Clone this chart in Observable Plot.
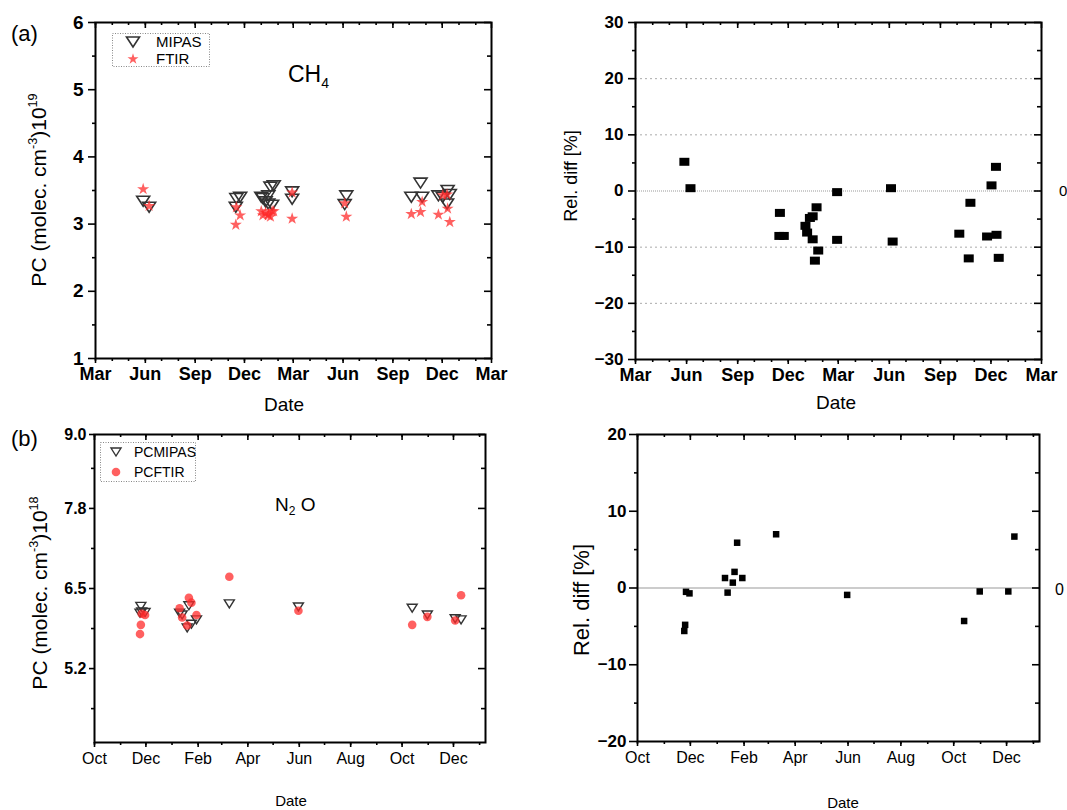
<!DOCTYPE html>
<html>
<head>
<meta charset="utf-8">
<script src="https://cdn.jsdelivr.net/npm/d3@7"></script>
<script src="https://cdn.jsdelivr.net/npm/@observablehq/plot@0.6"></script>
<style>
  body { margin: 0; background: #fff; }
  #fig { position: relative; width: 1067px; height: 810px; overflow: hidden; background: #fff; }
  .p { position: absolute; }
</style>
</head>
<body>
<div id="fig"></div>
<script>
// ---------- CH4 partial columns (x1e19 molec. cm^-3) and relative differences ----------
const ch4Dates = ["2010-05-28","2010-06-08","2010-11-15","2010-11-16","2010-11-23",
  "2011-01-01","2011-01-04","2011-01-09","2011-01-14","2011-01-14","2011-01-18","2011-01-21","2011-01-24",
  "2011-02-27","2011-02-27","2011-06-04","2011-06-07","2011-10-05","2011-10-22","2011-10-25",
  "2011-11-24","2011-12-02","2011-12-10","2011-12-11","2011-12-15"];
const ch4Mipas = [3.34,3.25,3.25,3.38,3.40, 3.40,3.38,3.33,3.30,3.42,3.55,3.28,3.57,
  3.48,3.37,3.29,3.42,3.40,3.61,3.40, 3.42,3.40,3.30,3.50,3.44];
const ch4Ftir  = [3.52,3.27,2.99,3.25,3.13, 3.19,3.13,3.17,3.15,3.13,3.11,3.19,3.19,
  3.47,3.08,3.31,3.11,3.15,3.18,3.33, 3.14,3.43,3.44,3.23,3.03];
const ch4Rel   = [5.2,0.5,-8.0,-3.9,-8.0, -6.2,-7.4,-4.8,-4.5,-8.6,-12.4,-2.9,-10.6,
  -0.2,-8.7,0.5,-9.0,-7.6,-12.0,-2.1, -8.1,1.0,4.3,-7.8,-11.9];

// ---------- N2O partial columns (x1e18 molec. cm^-3) and relative differences ----------
const n2oDates = ["2010-11-24","2010-11-25","2010-11-26","2010-11-30",
  "2011-01-10","2011-01-13","2011-01-19","2011-01-21","2011-01-24","2011-01-30",
  "2011-03-10","2011-05-31","2011-10-13","2011-10-31","2011-12-03","2011-12-10"];
const n2oMipas = [6.10,6.21,6.12,6.11, 6.10,6.07,5.86,6.22,5.92,5.99, 6.25,6.20,6.18,6.07,6.01,5.99];
const n2oFtir  = [5.76,5.91,6.09,6.07, 6.18,6.03,5.90,6.35,6.27,6.07, 6.69,6.14,5.91,6.04,5.98,6.39];
const n2oRel   = [-5.6,-4.8,-0.5,-0.7, 1.3,-0.6,0.7,2.1,5.9,1.3, 7.0,-0.9,-4.3,-0.45,-0.45,6.7];

// ---------- axes ----------
const ch4Domain = ["2010-03-01","2012-03-01"];
const ch4TickDates = ["2010-03-01","2010-06-01","2010-09-01","2010-12-01","2011-03-01",
  "2011-06-01","2011-09-01","2011-12-01","2012-03-01"];
const n2oDomain = ["2010-10-01","2012-01-08"];
const n2oTickDates = ["2010-10-01","2010-12-01","2011-02-01","2011-04-01","2011-06-01",
  "2011-08-01","2011-10-01","2011-12-01"];
const ch4PcTicks = [1,2,3,4,5,6];
const ch4PcMinor = [1.5,2.5,3.5,4.5,5.5];
const ch4RelTicks = [-30,-20,-10,0,10,20,30];
const ch4RelMinor = [-25,-15,-5,5,15,25];
const ch4RelGrid = [-20,-10,10,20];
const n2oPcTicks = [5.2,6.5,7.8,9.0];
const n2oPcMinor = [4.55,5.85,7.15,8.45];
const n2oRelTicks = [-20,-10,0,10,20];
const n2oRelMinor = [-15,-5,5,15];

const parse = d3.utcParse("%Y-%m-%d");
const FONT = "'Liberation Sans', Arial, Helvetica, sans-serif";
const monthFmt = d3.utcFormat("%b");

const ch4 = ch4Dates.map((d, i) => ({date: parse(d), mipas: ch4Mipas[i], ftir: ch4Ftir[i], rel: ch4Rel[i]}));
const n2o = n2oDates.map((d, i) => ({date: parse(d), mipas: n2oMipas[i], ftir: n2oFtir[i], rel: n2oRel[i]}));

// custom marker shapes
const triDown = (w, h) => ({draw(c) { c.moveTo(-w / 2, -h / 2); c.lineTo(w / 2, -h / 2); c.lineTo(0, h / 2); c.closePath(); }});
const box = (w, h) => ({draw(c) { c.rect(-w / 2, -h / 2, w, h); }});

const RED = "#ff2b2b";

function panel(o) {
  const iw = o.W - o.ml - o.mr, ih = o.H - o.mt - o.mb;
  const xDomain = o.xDomain.map(parse);
  const xMajor = o.xMajor.map(parse);
  const xMinor = d3.utcMonth.range(xDomain[0], xDomain[1]);
  const sw = 1.6;
  const svg = Plot.plot({
    width: o.W, height: o.H,
    marginLeft: o.ml, marginRight: o.mr, marginTop: o.mt, marginBottom: o.mb,
    style: {fontFamily: FONT, background: "transparent", overflow: "visible", color: "#000"},
    x: {type: "utc", domain: xDomain},
    y: {domain: o.yDomain},
    marks: [
      ...o.marks,
      // monthly minor ticks: outward at the bottom, inward at the top
      Plot.ruleX(xMinor, {insetTop: ih, insetBottom: -3, stroke: "#000", strokeWidth: sw}),
      Plot.ruleX(xMinor, {insetBottom: ih - 3, stroke: "#000", strokeWidth: sw}),
      Plot.ruleX(xMajor, {insetBottom: ih - 6, stroke: "#000", strokeWidth: sw}),
      // value ticks: outward on the left, inward on the right
      Plot.ruleY(o.yMinor, {insetRight: iw, insetLeft: -3, stroke: "#000", strokeWidth: sw}),
      Plot.ruleY(o.yMinor, {insetLeft: iw - 4, stroke: "#000", strokeWidth: sw}),
      Plot.ruleY(o.yMajor, {insetLeft: iw - 7, stroke: "#000", strokeWidth: sw}),
      Plot.axisX(xMajor, {tickSize: 5, tickPadding: o.xPad, tickFormat: monthFmt, label: null, strokeWidth: sw}),
      Plot.axisY(o.yMajor, {tickSize: o.yTick, tickPadding: o.yPad, tickFormat: o.yFmt, label: null, strokeWidth: sw}),
      Plot.frame({stroke: "#000", strokeWidth: 2})
    ]
  });
  // tick label typography: every text in the panel is a tick label
  svg.querySelectorAll("text").forEach((t) => {
    const g = t.closest("g[aria-label]");
    const isY = g && /y-axis/.test(g.getAttribute("aria-label"));
    const f = isY ? o.yFont : o.xFont;
    t.style.fontFamily = "Liberation Sans, Arial, sans-serif";
    t.style.fontSize = f.size + "px";
    t.style.fontWeight = f.weight;
  });
  return svg;
}

function place(svg, left, top) {
  const d = document.createElement("div");
  d.className = "p";
  d.style.left = left + "px";
  d.style.top = top + "px";
  d.appendChild(svg);
  document.getElementById("fig").appendChild(d);
}

// (a) CH4 partial columns
place(panel({
  W: 540, H: 410, ml: 95, mr: 49, mt: 22, mb: 52,
  xDomain: ch4Domain, xMajor: ch4TickDates, yDomain: [1, 6], yMajor: ch4PcTicks, yMinor: ch4PcMinor,
  xPad: 4, yTick: 7, yPad: 5, yFmt: d3.format("d"),
  xFont: {size: 18, weight: "700"}, yFont: {size: 19, weight: "700"},
  marks: [
    Plot.dot(ch4, {x: "date", y: "mipas", symbol: triDown(13, 10), r: 5, fill: "none", stroke: "#333", strokeWidth: 1.6}),
    Plot.dot(ch4, {x: "date", y: "ftir", symbol: "star", r: 3.8, fill: RED, fillOpacity: 0.75, stroke: "none"})
  ]
}), 0, 0);

// (a) CH4 relative difference
place(panel({
  W: 527, H: 410, ml: 95, mr: 26, mt: 22, mb: 51,
  xDomain: ch4Domain, xMajor: ch4TickDates, yDomain: [-30, 30], yMajor: ch4RelTicks, yMinor: ch4RelMinor,
  xPad: 4, yTick: 7, yPad: 5, yFmt: d3.format("d"),
  xFont: {size: 18, weight: "700"}, yFont: {size: 17, weight: "700"},
  marks: [
    Plot.ruleY(ch4RelGrid, {stroke: "#aaa", strokeWidth: 1, strokeDasharray: "2,3"}),
    Plot.ruleY([0], {stroke: "#999", strokeWidth: 1.2, strokeDasharray: "1,1"}),
    Plot.dot(ch4, {x: "date", y: "rel", symbol: box(10, 8), r: 5, fill: "#000", stroke: "none"})
  ]
}), 540, 0);

// (b) N2O partial columns
place(panel({
  W: 540, H: 400, ml: 94, mr: 55, mt: 24, mb: 68,
  xDomain: n2oDomain, xMajor: n2oTickDates, yDomain: [4, 9], yMajor: n2oPcTicks, yMinor: n2oPcMinor,
  xPad: 5, yTick: 5, yPad: 3, yFmt: d3.format(".1f"),
  xFont: {size: 16, weight: "400"}, yFont: {size: 16, weight: "700"},
  marks: [
    Plot.dot(n2o, {x: "date", y: "mipas", symbol: triDown(10, 8), r: 5, fill: "none", stroke: "#333", strokeWidth: 1.4}),
    Plot.dot(n2o, {x: "date", y: "ftir", r: 4.3, fill: RED, fillOpacity: 0.75, stroke: "none"})
  ]
}), 0, 410);

// (b) N2O relative difference
place(panel({
  W: 527, H: 400, ml: 97, mr: 28, mt: 24, mb: 69,
  xDomain: n2oDomain, xMajor: n2oTickDates, yDomain: [-20, 20], yMajor: n2oRelTicks, yMinor: n2oRelMinor,
  xPad: 5, yTick: 8, yPad: 3, yFmt: d3.format("d"),
  xFont: {size: 16, weight: "400"}, yFont: {size: 17, weight: "700"},
  marks: [
    Plot.ruleY([0], {stroke: "#999", strokeWidth: 1.2}),
    Plot.dot(n2o, {x: "date", y: "rel", symbol: box(6.5, 6.5), r: 4, fill: "#000", stroke: "none"})
  ]
}), 540, 410);

// ---------- titles, axis names and legends ----------
function pcTitle(x, y, fs, exp) {
  const s = fs * 0.6, up = fs * 0.42;
  return `<text transform="translate(${x},${y}) rotate(-90)" text-anchor="middle" font-size="${fs}">PC (molec. cm` +
    `<tspan font-size="${s}" dy="${-up}">-3</tspan><tspan dy="${up}">)10</tspan>` +
    `<tspan font-size="${s}" dy="${-up}">${exp}</tspan></text>`;
}
const starPath = d3.symbol(d3.symbolStar, Math.PI * 12)();

const overlay = `
<svg width="1067" height="810" style="position:absolute;left:0;top:0;pointer-events:none" font-family="${FONT}" fill="#000">
  <text x="11" y="41" font-size="22">(a)</text>
  <text x="11" y="446" font-size="22">(b)</text>
  ${pcTitle(46, 190, 21, "19")}
  ${pcTitle(47, 593, 21, "18")}
  <text transform="translate(577,176) rotate(-90)" text-anchor="middle" font-size="18">Rel. diff [%]</text>
  <text transform="translate(589,600) rotate(-90)" text-anchor="middle" font-size="22">Rel. diff [%]</text>
  <text x="284" y="411" text-anchor="middle" font-size="19">Date</text>
  <text x="836" y="409" text-anchor="middle" font-size="19">Date</text>
  <text x="291" y="806" text-anchor="middle" font-size="15">Date</text>
  <text x="843" y="808" text-anchor="middle" font-size="15">Date</text>
  <text x="1059" y="196" font-size="15">0</text>
  <text x="1055" y="595" font-size="16">0</text>
  <text x="288" y="82" font-size="23">CH<tspan font-size="14" dy="6">4</tspan></text>
  <text x="275" y="511" font-size="19">N<tspan font-size="12" dy="4">2</tspan><tspan dy="-4"> O</tspan></text>

  <rect x="112.5" y="33.5" width="97" height="33" fill="none" stroke="#888" stroke-dasharray="1,1.5"/>
  <path d="M126.5,37L139.5,37L133,47Z" fill="none" stroke="#333" stroke-width="1.6"/>
  <text x="156" y="47" font-size="15">MIPAS</text>
  <path transform="translate(133,59)" d="${starPath}" fill="${RED}" fill-opacity="0.75"/>
  <text x="156" y="64" font-size="15">FTIR</text>

  <rect x="100.5" y="442.5" width="95" height="39" fill="none" stroke="#888" stroke-dasharray="1,1.5"/>
  <path d="M111,448L121,448L116,456Z" fill="none" stroke="#333" stroke-width="1.4"/>
  <text x="134" y="457" font-size="14">PCMIPAS</text>
  <circle cx="116" cy="472" r="4.3" fill="${RED}" fill-opacity="0.75"/>
  <text x="134" y="477" font-size="14">PCFTIR</text>
</svg>`;
document.getElementById("fig").insertAdjacentHTML("beforeend", overlay);
</script>
</body>
</html>
